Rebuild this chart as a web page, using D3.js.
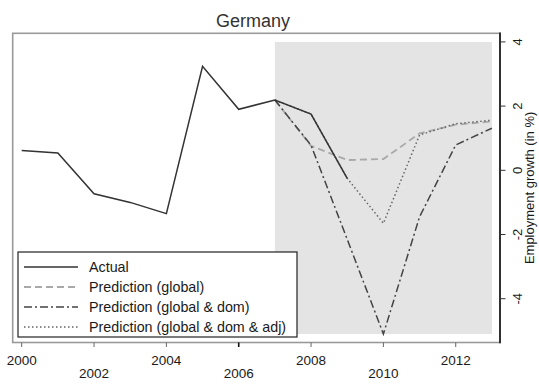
<!DOCTYPE html>
<html>
<head>
<meta charset = 'utf-8'>
<script src = 'https://d3js.org/d3.v7.min.js'></script>
<style>
body { margin: 0; background: #fff; }
text { font-family: 'Liberation Sans', Arial, sans-serif; fill: #1a1a1a; }
</style>
</head>
<body>
<div id="chart"></div>
<script>
// values
var actualYears = [2000, 2001, 2002, 2003, 2004, 2005, 2006, 2007, 2008, 2009];
var actualVals  = [0.62, 0.54, -0.73, -1.0, -1.35, 3.24, 1.9, 2.19, 1.75, -0.25];

var predYears = [2007, 2008, 2009, 2010, 2011, 2012, 2013];
var predGlobal = [2.19, 0.76, 0.32, 0.35, 1.15, 1.42, 1.52];
var predGlobalDom = [2.19, 0.78, -2.15, -5.1, -1.45, 0.79, 1.31];
var predGlobalDomAdj = [2.19, 1.75, -0.25, -1.65, 1.1, 1.45, 1.56];

var xTicks = [2000, 2002, 2004, 2006, 2008, 2010, 2012];
var yTicks = [-4, -2, 0, 2, 4];
var shadeYears = [2007, 2013];
var shadeVals = [-5.1, 4];

var legendLabels = ['Actual', 'Prediction (global)', 'Prediction (global & dom)', 'Prediction (global & dom & adj)'];

var W = 539, H = 388;
var box = {left: 12.7, right: 500, top: 33.3, bottom: 342.5};

var svg = d3.select('#chart').append('svg')
  .attr('width', W).attr('height', H);

var x = d3.scaleLinear().domain([2000, 2013]).range([21.7, 491.9]);
var y = d3.scaleLinear().domain([-4, 4]).range([298.7, 41.9]);

// shaded forecast period
svg.append('rect')
  .attr('x', x(shadeYears[0]))
  .attr('y', y(shadeVals[1]))
  .attr('width', x(shadeYears[1]) - x(shadeYears[0]))
  .attr('height', y(shadeVals[0]) - y(shadeVals[1]))
  .style('fill', '#e4e4e4');

var styles = [
  {color: '#333', width: 1.5, dash: null},
  {color: '#a9a9a9', width: 1.8, dash: '7,4'},
  {color: '#444', width: 1.5, dash: '8,3,2,3'},
  {color: '#666', width: 1.5, dash: '1.5,2.5'}
];

var series = [
  actualYears.map(function(d, i) { return [d, actualVals[i]]; }),
  predYears.map(function(d, i) { return [d, predGlobal[i]]; }),
  predYears.map(function(d, i) { return [d, predGlobalDom[i]]; }),
  predYears.map(function(d, i) { return [d, predGlobalDomAdj[i]]; })
];

var line = d3.line()
  .x(function(d) { return x(d[0]); })
  .y(function(d) { return y(d[1]); });

// draw predictions first, actual on top
[1, 2, 3, 0].forEach(function(i) {
  svg.append('path')
    .datum(series[i])
    .attr('d', line)
    .style('fill', 'none')
    .style('stroke', styles[i].color)
    .style('stroke-width', styles[i].width)
    .style('stroke-dasharray', styles[i].dash);
});

// plot box
svg.append('rect')
  .attr('x', box.left).attr('y', box.top)
  .attr('width', box.right - box.left)
  .attr('height', box.bottom - box.top)
  .style('fill', 'none')
  .style('stroke', '#9a9a9a')
  .style('stroke-width', 1.6);

svg.append('line')
  .attr('x1', box.right).attr('x2', box.right)
  .attr('y1', box.top - 0.8).attr('y2', box.bottom + 0.8)
  .style('stroke', '#111').style('stroke-width', 1.6);

// x axis: ticks and two rows of labels
var xt = svg.append('g');
xt.selectAll('line').data(xTicks).enter().append('line')
  .attr('x1', function(d) { return x(d); })
  .attr('x2', function(d) { return x(d); })
  .attr('y1', box.bottom)
  .attr('y2', box.bottom + 4.5)
  .style('stroke', function(d) { return d === 2006 ? '#111' : '#666'; })
  .style('stroke-width', function(d) { return d === 2006 ? 1.6 : 1; });
xt.selectAll('text').data(xTicks).enter().append('text')
  .attr('x', function(d) { return x(d); })
  .attr('y', function(d, i) { return i % 2 === 0 ? 365 : 378; })
  .attr('text-anchor', 'middle')
  .style('font-size', '13.5px')
  .text(function(d) { return d; });

// y axis on the right
var yt = svg.append('g');
yt.selectAll('line').data(yTicks).enter().append('line')
  .attr('x1', box.right)
  .attr('x2', box.right + 5.5)
  .attr('y1', function(d) { return y(d); })
  .attr('y2', function(d) { return y(d); })
  .style('stroke', '#333').style('stroke-width', 1);
yt.selectAll('text').data(yTicks).enter().append('text')
  .attr('transform', function(d) { return 'translate(522,' + y(d) + ') rotate(-90)'; })
  .attr('text-anchor', 'middle')
  .style('font-size', '13px')
  .text(function(d) { return d; });

svg.append('text')
  .attr('transform', 'translate(534,' + ((box.top + box.bottom) / 2) + ') rotate(-90)')
  .attr('text-anchor', 'middle')
  .style('font-size', '13px')
  .text('Employment growth (in %)');

// title
svg.append('text')
  .attr('x', 253).attr('y', 27)
  .attr('text-anchor', 'middle')
  .style('font-size', '18px')
  .style('fill', '#333')
  .text('Germany');

// legend
var lg = svg.append('g');
lg.append('rect')
  .attr('x', 18).attr('y', 252)
  .attr('width', 279).attr('height', 85)
  .style('fill', '#fff')
  .style('stroke', '#222')
  .style('stroke-width', 1.2);

legendLabels.forEach(function(lbl, i) {
  var ly = 267 + i * 20;
  lg.append('line')
    .attr('x1', 24).attr('x2', 78)
    .attr('y1', ly).attr('y2', ly)
    .style('stroke', styles[i].color)
    .style('stroke-width', styles[i].width)
    .style('stroke-dasharray', styles[i].dash);
  lg.append('text')
    .attr('x', 89).attr('y', ly + 5)
    .style('font-size', '14.3px')
    .text(lbl);
});
</script>
</body>
</html>
